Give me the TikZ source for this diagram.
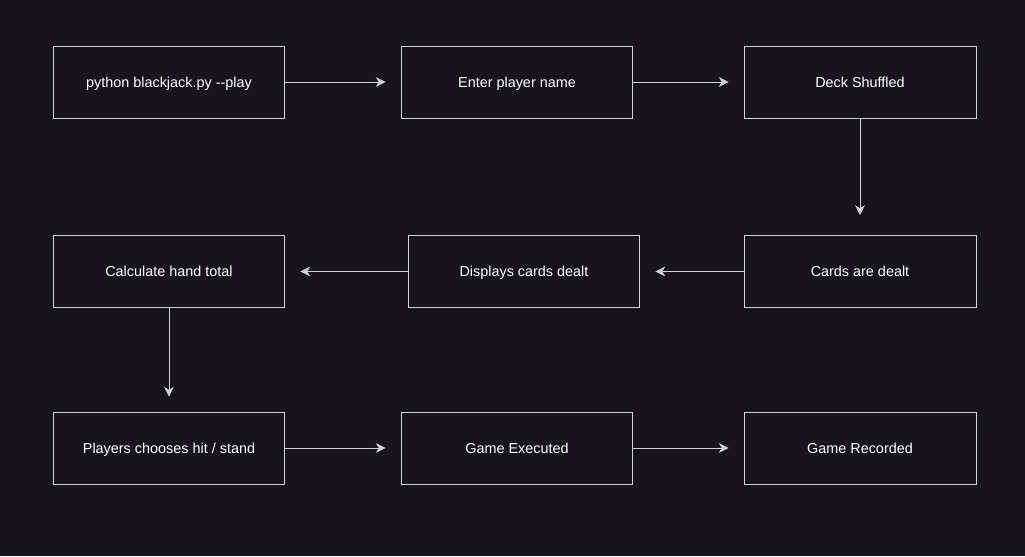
\documentclass[tikz,border=0pt]{standalone}
\usepackage{fontspec}
\setmainfont{Liberation Sans}
\usetikzlibrary{arrows.meta}
\definecolor{bgdark}{HTML}{18141C}
\definecolor{linegray}{HTML}{D0D0D6}
\begin{document}
\begin{tikzpicture}[x=0.02cm, y=-0.02cm,
    stepbox/.style={shape=rectangle, draw=linegray, line width=0.55pt, text=white,
      minimum width=4.64cm, minimum height=1.44cm, inner sep=0pt,
      text height=7pt, text depth=1pt,
      font=\fontsize{8.2}{9.8}\selectfont},
    flow/.style={-{Stealth[length=5.6pt, width=5.6pt, inset=1.8pt]}, color=linegray, line width=0.55pt, shorten >=0.3cm}]
    \fill[bgdark] (0,0) rectangle (1025,556);
    \useasboundingbox (0,0) rectangle (1025,556);
    \node[stepbox] at (169,82) (B1) {python blackjack.py -{}-play};
    \node[stepbox] at (517,82) (B2) {Enter player name};
    \node[stepbox] at (860,82) (B3) {Deck Shuffled};
    \node[stepbox] at (860,271.5) (B4) {Cards are dealt};
    \node[stepbox] at (524,271.5) (B5) {Displays cards dealt};
    \node[stepbox] at (169,271.5) (B6) {Calculate hand total};
    \node[stepbox] at (169,448) (B7) {Players chooses hit / stand};
    \node[stepbox] at (517,448) (B8) {Game Executed};
    \node[stepbox] at (860,448) (B9) {Game Recorded};
    \path [flow] (B1) edge (B2);
    \path [flow] (B2) edge (B3);
    \path [flow] (B3) edge[shorten >=0.4cm] (B4);
    \path [flow] (B4) edge (B5);
    \path [flow] (B5) edge (B6);
    \path [flow] (B6) edge (B7);
    \path [flow] (B7) edge (B8);
    \path [flow] (B8) edge (B9);
\end{tikzpicture}
\end{document}
